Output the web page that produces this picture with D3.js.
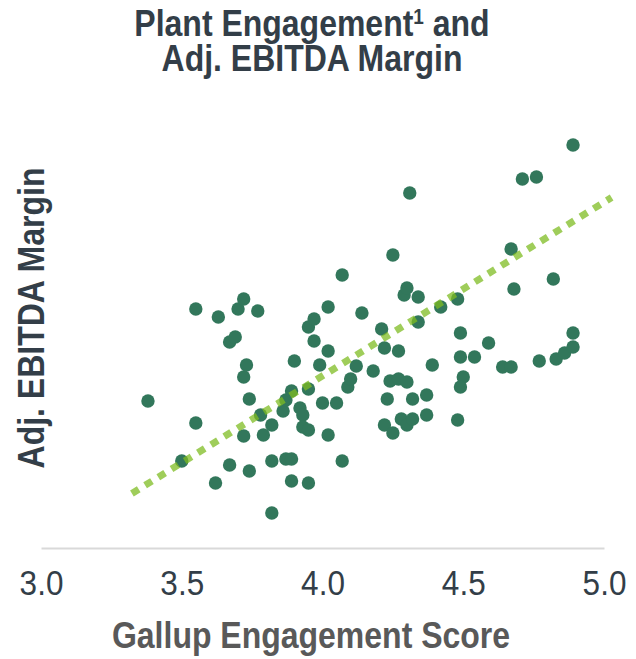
<!DOCTYPE html>
<html><head><meta charset="utf-8">
<script src="https://cdn.jsdelivr.net/npm/d3@7"></script>
<style>body{margin:0;background:#fff}svg{display:block}text{font-family:"Liberation Sans",Arial,sans-serif}</style>
</head><body>
<svg id="c" width="636" height="659"></svg>
<script>
// Gallup engagement score (x) for each plant
const engagement = [3.38,3.50,3.55,3.55,3.62,3.63,3.67,3.69,3.67,3.70,3.72,3.72,3.73,3.72,3.74,3.74,3.77,3.78,3.79,3.82,
  3.82,3.82,3.86,3.87,3.87,3.89,3.89,3.89,3.90,3.92,3.93,3.93,3.95,3.95,3.95,3.95,3.97,3.97,3.99,4.00,
  4.02,4.02,4.02,4.05,4.07,4.07,4.09,4.10,4.12,4.14,4.18,4.21,4.22,4.23,4.22,4.25,4.24,4.27,4.30,4.27,
  4.25,4.29,4.30,4.31,4.32,4.28,4.30,4.32,4.34,4.34,4.37,4.37,4.39,4.42,4.48,4.48,4.49,4.49,4.50,4.49,
  4.54,4.59,4.64,4.67,4.67,4.68,4.71,4.76,4.77,4.82,4.83,4.86,4.89,4.89,4.89];
// Adj. EBITDA margin (%) for each plant (no scale shown on chart; estimated)
const margin = [10.50,6.19,17.12,8.92,4.60,16.55,14.75,15.11,5.90,17.12,17.84,12.23,13.09,7.99,10.65,5.47,16.98,9.50,8.06,8.78,
  6.19,2.45,9.78,10.58,6.33,11.22,6.33,4.75,13.38,10.00,9.50,8.63,8.42,11.37,4.60,15.83,16.40,14.82,13.09,10.36,
  17.27,8.06,14.10,10.36,19.57,6.19,11.51,12.09,13.02,16.83,12.66,15.68,14.32,10.65,8.78,8.20,11.94,12.09,11.87,14.10,
  21.01,18.13,18.63,25.47,10.65,9.21,8.78,9.21,17.99,16.19,10.94,9.50,13.09,17.27,17.84,9.14,15.40,13.67,12.23,11.51,
  13.67,14.68,12.95,12.95,21.44,18.56,26.47,26.62,13.38,19.28,13.52,13.96,14.39,15.40,28.92];
// trend line end points
const trendX = [3.323, 5.027];
const trendY = [3.85, 25.14];
const xTicks = [3.0, 3.5, 4.0, 4.5, 5.0];
const titleLines = ["Plant Engagement", "Adj. EBITDA Margin"];
const xTitle = "Gallup Engagement Score";
const yTitle = "Adj. EBITDA Margin";

const S = 1.13; // vertical stretch of glyphs seen in the reference
const svg = d3.select("#c");
const x = d3.scaleLinear().domain([3.0, 5.0]).range([41, 604]);
const y = d3.scaleLinear().domain([0, 30]).range([547, 130]);

function label(tx, ty, rot) {
  return svg.append("g").attr("transform", `translate(${tx},${ty})` + (rot ? ` rotate(${rot})` : "") + ` scale(1,${S})`)
    .append("text").attr("text-anchor", "middle");
}

// title
const t1 = label(312, 36).attr("font-size", 32).attr("font-weight", "bold").attr("fill", "#333e48");
t1.append("tspan").text(titleLines[0]);
t1.append("tspan").attr("font-size", 19).attr("dy", -11).text("1");
t1.append("tspan").attr("dy", 11).text(" and");
label(312, 71).attr("font-size", 32).attr("font-weight", "bold").attr("fill", "#333e48").text(titleLines[1]);

// y title
label(44, 318, -90).attr("font-size", 32).attr("font-weight", "bold").attr("fill", "#333e48").text(yTitle);

// x axis
const xAxis = d3.axisBottom(x).tickValues(xTicks).tickFormat(d3.format(".1f")).tickSize(0);
const gx = svg.append("g").attr("transform", "translate(0,548)").call(xAxis);
gx.select(".domain").attr("stroke", "#d9d9d9").attr("stroke-width", 2);
gx.selectAll(".tick text").attr("font-size", 31.5).attr("fill", "#333e48")
  .attr("font-family", "Liberation Sans, Arial, sans-serif")
  .attr("dy", 0).attr("y", 47.5 / S).attr("transform", `scale(1,${S})`);

label(311, 648).attr("font-size", 32).attr("font-weight", "bold").attr("fill", "#595959").text(xTitle);

// points
const pts = engagement.map((e, i) => ({ e, m: margin[i] }));
svg.append("g").selectAll("circle").data(pts).join("circle")
  .attr("cx", d => x(d.e)).attr("cy", d => y(d.m)).attr("r", 6.7).attr("fill", "#32775b");

// trend line
const line = d3.line().x(d => x(d[0])).y(d => y(d[1]));
svg.append("path").datum(trendX.map((v, i) => [v, trendY[i]])).attr("d", line)
  .attr("fill", "none").attr("stroke", "#7dbb20").attr("stroke-opacity", 0.74)
  .attr("stroke-width", 7).attr("stroke-dasharray", "8,7.5");
</script>
</body></html>
